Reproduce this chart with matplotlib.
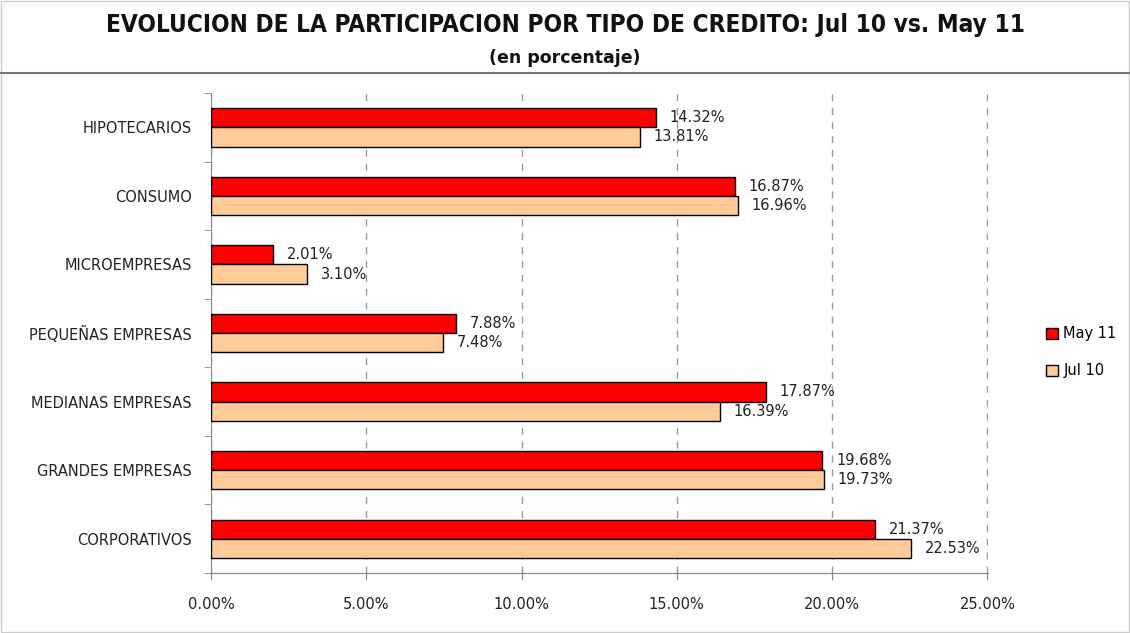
import numpy as np
import matplotlib.pyplot as plt
from matplotlib.patches import Rectangle

# categorias y valores (%)
categorias = ['HIPOTECARIOS', 'CONSUMO', 'MICROEMPRESAS', 'PEQUEÑAS EMPRESAS',
              'MEDIANAS EMPRESAS', 'GRANDES EMPRESAS', 'CORPORATIVOS']
may11 = [14.32, 16.87, 2.01, 7.88, 17.87, 19.68, 21.37]
jul10 = [13.81, 16.96, 3.10, 7.48, 16.39, 19.73, 22.53]
xticks = [0, 5, 10, 15, 20, 25]

fig = plt.figure(figsize=(11.3, 6.33), dpi=100)
ax = fig.add_axes([0.1867, 0.0948, 0.6876, 0.7582])

y = np.arange(len(categorias))
h = 0.28
ax.barh(y - h / 2, may11, height=h, color='#FF0000', edgecolor='black',
        linewidth=1, label='May 11', zorder=3)
ax.barh(y + h / 2, jul10, height=h, color='#FFCC99', edgecolor='black',
        linewidth=1, label='Jul 10', zorder=3)

for i in range(len(categorias)):
    ax.annotate('%.2f%%' % may11[i], (may11[i], y[i] - h / 2), xytext=(10, 0),
                textcoords='offset points', va='center', ha='left',
                fontsize=10.5, color='#222222')
    ax.annotate('%.2f%%' % jul10[i], (jul10[i], y[i] + h / 2), xytext=(10, 0),
                textcoords='offset points', va='center', ha='left',
                fontsize=10.5, color='#222222')

ax.set_xlim(0, 25.02)
ax.set_ylim(6.5, -0.5)
ax.set_xticks(xticks)
ax.set_xticklabels(['%.2f%%' % t for t in xticks], fontsize=10.5, color='#222222')
ax.set_yticks(y)
ax.set_yticklabels(categorias, fontsize=10.5, color='#222222')
ax.tick_params(axis='y', length=0, pad=14)
ax.set_yticks(np.arange(-0.5, 7, 1), minor=True)
ax.tick_params(axis='y', which='minor', length=5, color='#888888')
ax.tick_params(axis='x', length=5, color='#888888', pad=12)
ax.xaxis.grid(True, linestyle=(0, (5, 5)), color='#999999', linewidth=1, zorder=0)

for s in ['top', 'right']:
    ax.spines[s].set_visible(False)
for s in ['left', 'bottom']:
    ax.spines[s].set_color('#888888')

leg = ax.legend(loc='center left', bbox_to_anchor=(1.067, 0.46), frameon=False,
                fontsize=10.5, handlelength=0.8, handleheight=0.8,
                handletextpad=0.4, labelspacing=1.5, borderaxespad=0)

# titulo y marco
fig.text(0.5, 0.96, 'EVOLUCION DE LA PARTICIPACION POR TIPO DE CREDITO: Jul 10 vs. May 11',
         ha='center', va='center', fontsize=17.5, fontweight='bold',
         fontstretch='condensed', color='#111111')
fig.text(0.5, 0.908, '(en porcentaje)', ha='center', va='center', fontsize=12.5,
         fontweight='bold', color='#111111')
fig.add_artist(plt.Line2D([0, 1], [0.885, 0.885], color='#777777', linewidth=1.5))
fig.add_artist(Rectangle((0.001, 0.001), 0.998, 0.997, fill=False,
                         edgecolor='#cccccc', linewidth=1))

plt.savefig('out.png', dpi=100)
